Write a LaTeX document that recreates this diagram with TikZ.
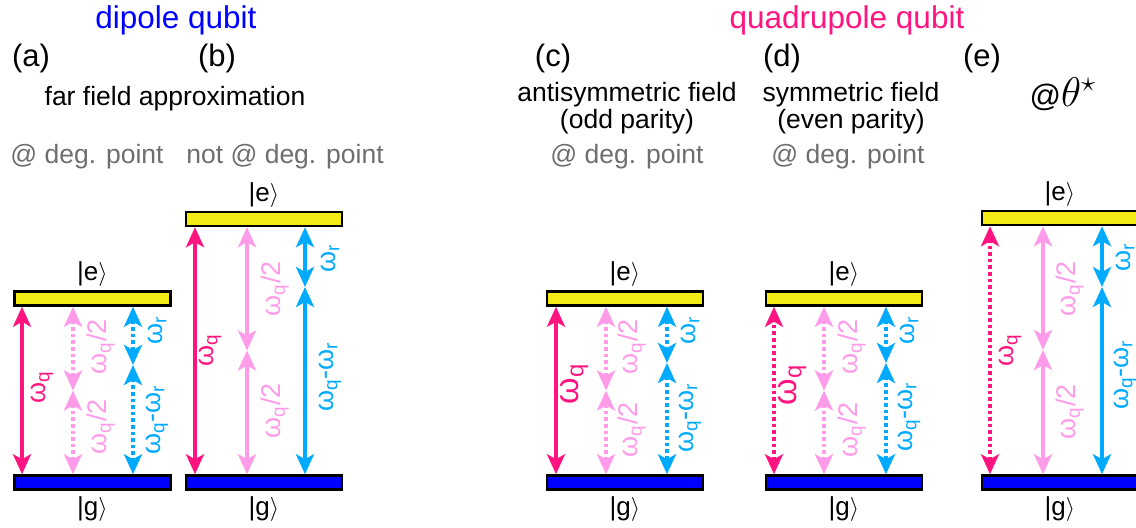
\documentclass[tikz,border=0pt]{standalone}
\usepackage{fontspec}
\setmainfont{Liberation Sans}
\usetikzlibrary{positioning}
\usetikzlibrary{arrows.meta}

\definecolor{barYellow}{RGB}{245,235,20}
\definecolor{barBlue}{RGB}{0,0,255}
\definecolor{qPink}{RGB}{255,20,128}
\definecolor{halfPink}{RGB}{255,155,232}
\definecolor{rBlue}{RGB}{0,170,255}
\definecolor{noteGray}{RGB}{110,110,110}

\newcommand{\ketlabel}[1]{\textbar{}#1$\rangle$}
\newcommand{\wsub}[1]{\textsubscript{#1}}

\begin{document}
\begin{tikzpicture}[x=0.5pt,y=-0.5pt,
  ebar/.style={draw=black,line width=1.25pt,fill=barYellow,minimum width=78pt,minimum height=7pt,inner sep=0pt},
  gbar/.style={ebar,fill=barBlue},
  ketlab/.style={font=\fontsize{13pt}{15pt}\selectfont,inner sep=0pt},
  trans/.style={line width=2pt,{Stealth[length=10pt,width=9pt,inset=2.5pt]}-{Stealth[length=10pt,width=9pt,inset=2.5pt]}},
  dotline/.style={dash pattern=on 1.8pt off 1.5pt},
  wlab/.style={rotate=90,inner sep=0pt,font=\fontsize{13.5pt}{15pt}\selectfont},
  wbig/.style={wlab,font=\fontsize{17pt}{19pt}\selectfont},
  title/.style={font=\fontsize{15.75pt}{18pt}\selectfont,inner sep=0pt},
  panel/.style={font=\fontsize{15.5pt}{18pt}\selectfont,inner sep=0pt},
  subtitle/.style={font=\fontsize{13.25pt}{13.5pt}\selectfont,align=center,inner sep=0pt},
  note/.style={subtitle,text=noteGray}]
\clip (0,0) rectangle (1136,528);

% headings
\node[title,text=barBlue] (dipole) at (176,20) {dipole qubit};
\node[title,text=qPink] (quadrupole) at (847,20) {quadrupole qubit};
\node[panel] (pa) at (31,58) {(a)};
\node[panel] (pb) at (217,58) {(b)};
\node[panel] (pc) at (553,58) {(c)};
\node[panel] (pd) at (782,58) {(d)};
\node[panel] (pe) at (982,58) {(e)};
\node[subtitle] (farfield) at (175,99) {far field approximation};
\node[subtitle] (oddfield) at (627,108) {antisymmetric field\\(odd parity)};
\node[subtitle] (evenfield) at (851,108) {symmetric field\\(even parity)};
\node[subtitle,font=\fontsize{15.5pt}{17pt}\selectfont] (magic) at (1063,94) {@{\fontsize{21pt}{23pt}\selectfont$\theta^{\star}$}};
\node[note] (dega) at (87,157) {@ deg. point};
\node[note] (degb) at (285,157) {not @ deg. point};
\node[note] (degc) at (627,157) {@ deg. point};
\node[note] (degd) at (848,157) {@ deg. point};

% (a)
\node[ebar] (ea) at (92.5,298.5) {};
\node[gbar] (ga) at (92.5,482.5) {};
\node[ketlab,above=1.5pt of ea] (ea-ket) {\ketlabel{e}};
\node[ketlab,below=3pt of ga] (ga-ket) {\ketlabel{g}};
\coordinate (a-q) at (22,390);
\coordinate (a-half) at (73,390.5);
\coordinate (a-r) at (133,365);
\draw[trans,qPink] (ga.north -| a-q) -- (ea.south -| a-q);
\draw[trans,halfPink,dotline] (ea.south -| a-half) -- (a-half);
\draw[trans,halfPink,dotline] (a-half) -- (ga.north -| a-half);
\draw[trans,rBlue,dotline] (ea.south -| a-r) -- (a-r);
\draw[trans,rBlue,dotline] (a-r) -- (ga.north -| a-r);
\node[wlab,text=qPink] (a-wq) at (42,387) {ω\wsub{q}};
\node[wlab,text=halfPink] (a-wh1) at (101,347) {ω\wsub{q}/2};
\node[wlab,text=halfPink] (a-wh2) at (101,427) {ω\wsub{q}/2};
\node[wlab,text=rBlue] (a-wr) at (157,330) {ω\wsub{r}};
\node[wlab,text=rBlue] (a-wd) at (157,420) {ω\wsub{q}-ω\wsub{r}};

% (b)
\node[ebar] (eb) at (264,219) {};
\node[gbar] (gb) at (264,482.5) {};
\node[ketlab,above=1.5pt of eb] (eb-ket) {\ketlabel{e}};
\node[ketlab,below=3pt of gb] (gb-ket) {\ketlabel{g}};
\coordinate (b-q) at (195,350);
\coordinate (b-half) at (247,350.5);
\coordinate (b-r) at (305,287);
\draw[trans,qPink] (gb.north -| b-q) -- (eb.south -| b-q);
\draw[trans,halfPink] (eb.south -| b-half) -- (b-half);
\draw[trans,halfPink] (b-half) -- (gb.north -| b-half);
\draw[trans,rBlue] (eb.south -| b-r) -- (b-r);
\draw[trans,rBlue] (b-r) -- (gb.north -| b-r);
\node[wlab,text=qPink] (b-wq) at (210,350) {ω\wsub{q}};
\node[wlab,text=halfPink] (b-wh1) at (275,289) {ω\wsub{q}/2};
\node[wlab,text=halfPink] (b-wh2) at (275,411) {ω\wsub{q}/2};
\node[wlab,text=rBlue] (b-wr) at (330,258) {ω\wsub{r}};
\node[wlab,text=rBlue] (b-wd) at (330,377) {ω\wsub{q}-ω\wsub{r}};

% (c)
\node[ebar] (ec) at (625,298.5) {};
\node[gbar] (gc) at (625,482.5) {};
\node[ketlab,above=1.5pt of ec] (ec-ket) {\ketlabel{e}};
\node[ketlab,below=3pt of gc] (gc-ket) {\ketlabel{g}};
\coordinate (c-q) at (556,390);
\coordinate (c-half) at (606,390.5);
\coordinate (c-r) at (667,363);
\draw[trans,qPink] (gc.north -| c-q) -- (ec.south -| c-q);
\draw[trans,halfPink,dotline] (ec.south -| c-half) -- (c-half);
\draw[trans,halfPink,dotline] (c-half) -- (gc.north -| c-half);
\draw[trans,rBlue,dotline] (ec.south -| c-r) -- (c-r);
\draw[trans,rBlue,dotline] (c-r) -- (gc.north -| c-r);
\node[wbig,text=qPink] (c-wq) at (574,384) {ω\wsub{q}};
\node[wlab,text=halfPink] (c-wh1) at (632,347) {ω\wsub{q}/2};
\node[wlab,text=halfPink] (c-wh2) at (632,430) {ω\wsub{q}/2};
\node[wlab,text=rBlue] (c-wr) at (690,330) {ω\wsub{r}};
\node[wlab,text=rBlue] (c-wd) at (690,418) {ω\wsub{q}-ω\wsub{r}};

% (d)
\node[ebar] (ed) at (844,298.5) {};
\node[gbar] (gd) at (844,482.5) {};
\node[ketlab,above=1.5pt of ed] (ed-ket) {\ketlabel{e}};
\node[ketlab,below=3pt of gd] (gd-ket) {\ketlabel{g}};
\coordinate (d-q) at (774,390);
\coordinate (d-half) at (824,390.5);
\coordinate (d-r) at (886,363);
\draw[trans,qPink,dotline] (gd.north -| d-q) -- (ed.south -| d-q);
\draw[trans,halfPink,dotline] (ed.south -| d-half) -- (d-half);
\draw[trans,halfPink,dotline] (d-half) -- (gd.north -| d-half);
\draw[trans,rBlue,dotline] (ed.south -| d-r) -- (d-r);
\draw[trans,rBlue,dotline] (d-r) -- (gd.north -| d-r);
\node[wbig,text=qPink] (d-wq) at (792,385) {ω\wsub{q}};
\node[wlab,text=halfPink] (d-wh1) at (852,347) {ω\wsub{q}/2};
\node[wlab,text=halfPink] (d-wh2) at (852,430) {ω\wsub{q}/2};
\node[wlab,text=rBlue] (d-wr) at (909,330) {ω\wsub{r}};
\node[wlab,text=rBlue] (d-wd) at (909,417) {ω\wsub{q}-ω\wsub{r}};

% (e)
\node[ebar] (ee) at (1060,218) {};
\node[gbar] (ge) at (1060,482.5) {};
\node[ketlab,above=1.5pt of ee] (ee-ket) {\ketlabel{e}};
\node[ketlab,below=3pt of ge] (ge-ket) {\ketlabel{g}};
\coordinate (e-q) at (990,350);
\coordinate (e-half) at (1043,350);
\coordinate (e-r) at (1102,287);
\draw[trans,qPink,dotline] (ge.north -| e-q) -- (ee.south -| e-q);
\draw[trans,halfPink] (ee.south -| e-half) -- (e-half);
\draw[trans,halfPink] (e-half) -- (ge.north -| e-half);
\draw[trans,rBlue] (ee.south -| e-r) -- (e-r);
\draw[trans,rBlue] (e-r) -- (ge.north -| e-r);
\node[wlab,text=qPink] (e-wq) at (1010,350) {ω\wsub{q}};
\node[wlab,text=halfPink] (e-wh1) at (1070,289) {ω\wsub{q}/2};
\node[wlab,text=halfPink] (e-wh2) at (1070,412) {ω\wsub{q}/2};
\node[wlab,text=rBlue] (e-wr) at (1125,257) {ω\wsub{r}};
\node[wlab,text=rBlue] (e-wd) at (1125,375) {ω\wsub{q}-ω\wsub{r}};
\end{tikzpicture}
\end{document}
